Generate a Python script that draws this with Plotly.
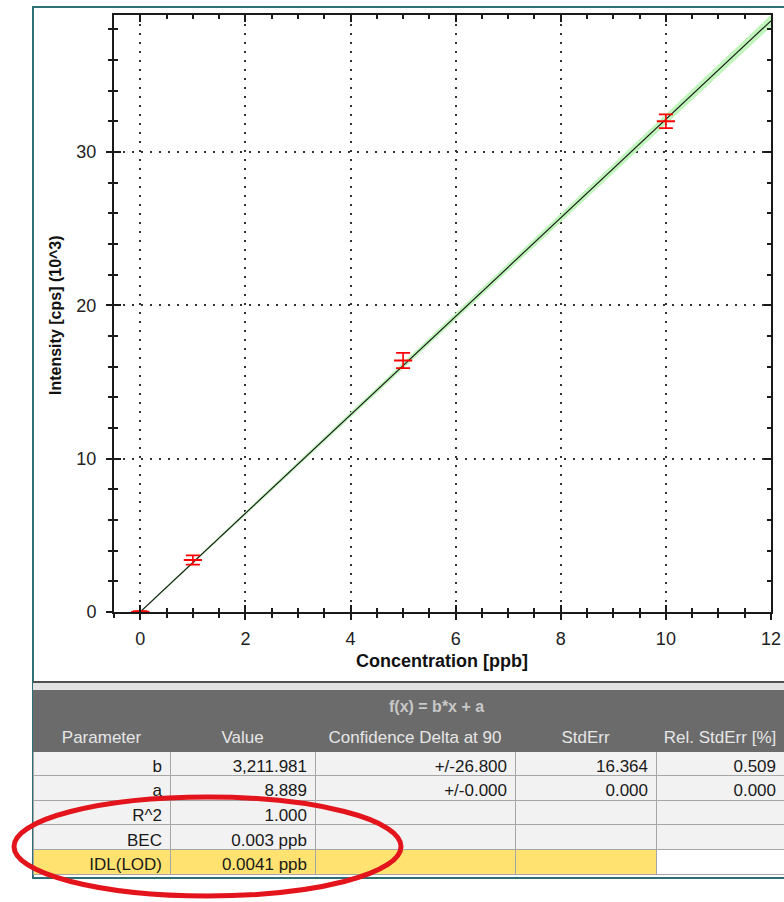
import numpy as np
import plotly.graph_objects as go

W, H = 784, 902

# Calibration standards (concentration in ppb, intensity in 10^3 cps)
conc = [0, 1, 5, 10]
intensity = [0.0089, 3.39, 16.4, 32.0]
intensity_err = [0.05, 0.30, 0.50, 0.45]

# Linear fit f(x) = b*x + a (cps)
slope_b = 3211.981
intercept_a = 8.889
conf_delta_b = 26.8

x_ticks = [0, 2, 4, 6, 8, 10, 12]
y_ticks = [0, 10, 20, 30]

# Fit statistics table
col_headers = ["Parameter", "Value", "Confidence Delta at 90", "StdErr", "Rel.\u00a0StdErr\u00a0[%]"]
params = ["b", "a", "R^2", "BEC", "IDL(LOD)"]
values = ["3,211.981", "8.889", "1.000", "0.003 ppb", "0.0041 ppb"]
conf_delta = ["+/-26.800", "+/-0.000", "", "", ""]
std_err = ["16.364", "0.000", "", "", ""]
rel_std_err = ["0.509", "0.000", "", "", ""]
fit_title = "f(x) = b*x + a"


def px(x):
    return x / W


def py(y):
    return 1 - y / H


X_RANGE = [-0.5, 12.0]
Y_RANGE = [0.0, 38.93]
XDOM = [px(114), px(771)]
YDOM = [py(612), py(15)]

FONT = "Liberation Sans, Arial, sans-serif"
AXC = "#1a1a1a"

fig = go.Figure()

# confidence band of the fit
x_fit = np.array([0.0, 12.0])
upper = ((slope_b + conf_delta_b) * x_fit + intercept_a) / 1000
lower = ((slope_b - conf_delta_b) * x_fit + intercept_a) / 1000
fig.add_trace(go.Scatter(
    x=np.concatenate([x_fit, x_fit[::-1]]),
    y=np.concatenate([upper, lower[::-1]]),
    fill="toself", fillcolor="#c0f5bb", line=dict(color="#c0f5bb", width=1.5),
    mode="lines", hoverinfo="skip", showlegend=False))

# fitted line
fig.add_trace(go.Scatter(
    x=x_fit, y=(slope_b * x_fit + intercept_a) / 1000,
    mode="lines", line=dict(color="#111111", width=1.1),
    hoverinfo="skip", showlegend=False))

# standards with error bars
fig.add_trace(go.Scatter(
    x=conc, y=intensity, mode="markers",
    marker=dict(symbol="line-ew-open", size=13, color="#ff0000",
                line=dict(color="#ff0000", width=2)),
    error_y=dict(type="data", array=intensity_err, visible=True,
                 color="#ff0000", thickness=1.6, width=7),
    showlegend=False))

# helper trace for the inside-tick overlay axes
fig.add_trace(go.Scatter(x=[None], y=[None], xaxis="x2", yaxis="y2",
                         showlegend=False, hoverinfo="skip"))

fig.add_trace(go.Table(
    domain=dict(x=[px(33), 1.0], y=[py(877), py(722)]),
    columnwidth=[137, 145, 200, 141, 128],
    header=dict(values=col_headers, fill_color="#6b6b6b", line_color="#6b6b6b",
                align="center", height=29,
                font=dict(family=FONT, size=17, color="#e6e6e6")),
    cells=dict(values=[params, values, conf_delta, std_err, rel_std_err],
               fill_color=[["#f2f2f2"] * 4 + ["#ffe270"]] * 4 + [["#f2f2f2"] * 4 + ["#ffffff"]],
               line_color="#a6a6a6", align="right", height=24.6,
               font=dict(family=FONT, size=17, color="#1a1a1a")),
))

common_axis = dict(showgrid=False, zeroline=False, showline=True, linecolor=AXC,
                   linewidth=2)

fig.update_layout(
    width=W, height=H, margin=dict(l=0, r=0, t=0, b=0),
    paper_bgcolor="white", plot_bgcolor="white", showlegend=False,
    xaxis=dict(domain=XDOM, range=X_RANGE, tickvals=x_ticks, anchor="y", automargin=False,
               showgrid=True, gridcolor="#333333", gridwidth=1.5, griddash="2px,7px",
               zeroline=False, showline=True, linecolor=AXC, linewidth=2, mirror=True,
               ticks="outside", ticklen=6, tickwidth=1.5, tickcolor=AXC, ticklabelstandoff=3,
               minor=dict(dtick=0.5, tick0=0, ticks="outside", ticklen=4, tickwidth=1.5,
                          tickcolor=AXC, showgrid=False),
               tickfont=dict(family=FONT, size=18, color="#222222")),
    yaxis=dict(domain=YDOM, range=Y_RANGE, tickvals=y_ticks, anchor="x", automargin=False,
               showgrid=True, gridcolor="#333333", gridwidth=1.5, griddash="2px,7px",
               zeroline=False, showline=True, linecolor=AXC, linewidth=2, mirror=True,
               ticks="outside", ticklen=6, tickwidth=1.5, tickcolor=AXC, ticklabelstandoff=6,
               minor=dict(dtick=2, tick0=0, ticks="outside", ticklen=4, tickwidth=1.5,
                          tickcolor=AXC, showgrid=False),
               tickfont=dict(family=FONT, size=18, color="#222222")),
    xaxis2=dict(common_axis, domain=XDOM, range=X_RANGE, overlaying="x", anchor="y2",
                automargin=False, dtick=2, tick0=0, ticks="inside", ticklen=7, tickwidth=1.5,
                tickcolor=AXC, mirror="ticks", showticklabels=False,
                minor=dict(dtick=0.5, tick0=0, ticks="inside", ticklen=4, tickwidth=1.5,
                           tickcolor=AXC)),
    yaxis2=dict(common_axis, domain=YDOM, range=Y_RANGE, overlaying="y", anchor="x2",
                automargin=False, dtick=10, tick0=0, ticks="inside", ticklen=7, tickwidth=1.5,
                tickcolor=AXC, mirror="ticks", showticklabels=False,
                minor=dict(dtick=2, tick0=0, ticks="inside", ticklen=4, tickwidth=1.5,
                           tickcolor=AXC)),
)

shapes = [
    # outer frame of the calibration panel (open on the right)
    dict(type="path", xref="paper", yref="paper",
         path=f"M 1 {py(7)} L {px(33)} {py(7)} L {px(33)} {py(878)} L 1 {py(878)}",
         line=dict(color="#2d6f74", width=2), layer="below"),
    # separator strip above the table
    dict(type="rect", xref="paper", yref="paper", x0=px(33), x1=1, y0=py(690), y1=py(682),
         fillcolor="#e2e2e2", line=dict(width=0), layer="below"),
    dict(type="line", xref="paper", yref="paper", x0=px(33), x1=1, y0=py(682), y1=py(682),
         line=dict(color="#505050", width=2), layer="below"),
    # dark title band of the table
    dict(type="rect", xref="paper", yref="paper", x0=px(33), x1=1, y0=py(723), y1=py(690),
         fillcolor="#6b6b6b", line=dict(width=0), layer="below"),
    # highlight around the detection-limit rows
    dict(type="circle", xref="paper", yref="paper", x0=px(14), x1=px(401), y0=py(896), y1=py(797),
         line=dict(color="#e3141b", width=5)),
]
fig.update_layout(shapes=shapes)

fig.update_layout(annotations=[
    dict(text="Concentration [ppb]", xref="paper", yref="paper", x=px(442), y=py(661),
         showarrow=False, xanchor="center", yanchor="middle",
         font=dict(family=FONT, size=18, color="#111111", weight="bold")),
    dict(text="Intensity [cps] (10^3)", xref="paper", yref="paper", x=px(55), y=py(315),
         showarrow=False, textangle=-90, xanchor="center", yanchor="middle",
         font=dict(family=FONT, size=16, color="#111111", weight="bold")),
    dict(text=fit_title, xref="paper", yref="paper", x=px(436), y=py(706),
         showarrow=False, xanchor="center", yanchor="middle",
         font=dict(family=FONT, size=16, color="#c8c8c8", weight="bold")),
])

fig.write_html("out.html")
